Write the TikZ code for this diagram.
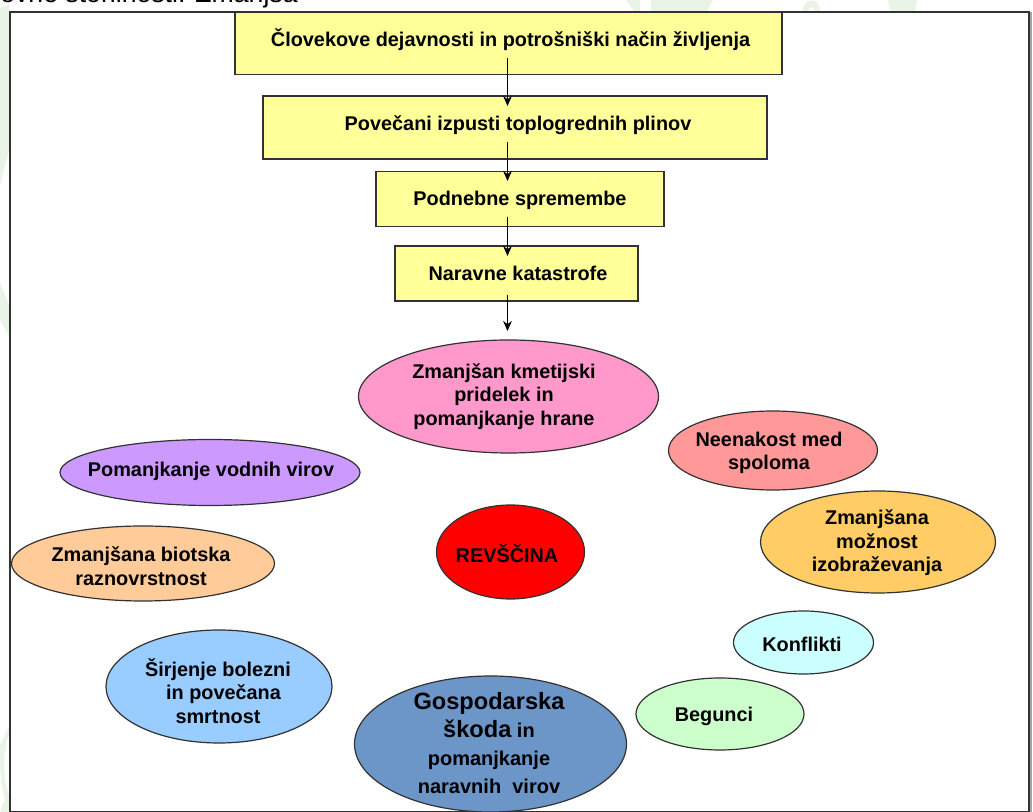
\documentclass[tikz,border=0pt]{standalone}
\usepackage{fontspec}
\setmainfont{Liberation Sans}
\usetikzlibrary{shapes.geometric,arrows.meta}
\definecolor{boxy}{RGB}{255,255,153}
\definecolor{edge}{RGB}{50,50,50}
\definecolor{leaf}{RGB}{233,244,230}
\tikzset{
  px/.style={x=0.75pt,y=-0.75pt},
  yb/.style={draw=edge,line width=0.9pt,fill=boxy},
  el/.style={ellipse,draw=edge,line width=0.9pt,inner sep=0pt},
  lbl/.style={font=\bfseries\fontsize{14.9}{17.6}\selectfont,align=center,inner sep=0pt},
  arr/.style={draw=black,line width=0.7pt,-{Stealth[length=7.5pt,width=6.5pt]}}
}
\begin{document}
\begin{tikzpicture}[px]
\useasboundingbox (0,0) rectangle (1033,812);
\fill[white] (0,0) rectangle (1033,812);
% faint leaves of the slide background, showing round the frame
\fill[leaf] (0,8) -- (9,5) -- (9,150) -- (0,185) -- cycle;
\fill[leaf] (0,283) -- (9,305) -- (9,335) -- (0,320) -- cycle;
\fill[leaf] (0,745) -- (9,727) -- (9,735) .. controls (3,750) and (2,775) .. (9,795) -- (9,812) -- (0,812) -- (5,800) .. controls (0,785) and (0,765) .. (0,745) -- cycle;
\fill[leaf] (626,0) -- (640,0) -- (640,11) -- (634,11) -- cycle;
\fill[leaf] (651,0) -- (713,0) -- (707,11) -- (651,11) -- cycle;
\fill[leaf] (803,11) .. controls (803,-3) and (820,-3) .. (820,11) -- (815,11) .. controls (815,6) and (808,6) .. (808,11) -- cycle;
\fill[leaf] (888,0) -- (917,0) -- (915,11) -- (890,11) -- cycle;
\fill[black!35] (1030,12) rectangle (1032,812);
\node[anchor=base west,inner sep=0pt,font=\fontsize{20}{24}\selectfont] (cap) at (0,3) {ovne storilnosti: Zmanjša};
\draw[edge,line width=1pt,fill=white] (10,12) -- (1029,12) -- (1029,812) -- (10,812) -- cycle;
\node[yb,minimum width=547pt*0.75,minimum height=62pt*0.75] (a) at (508.5,43.5) {};
\node[yb,minimum width=504pt*0.75,minimum height=63pt*0.75] (b) at (515,127.5) {};
\node[yb,minimum width=288pt*0.75,minimum height=55pt*0.75] (c) at (520,199) {};
\node[yb,minimum width=243pt*0.75,minimum height=55pt*0.75] (d) at (516.5,273.5) {};
\node[lbl] (at) at (510.5,40) {Človekove dejavnosti in potrošniški način življenja};
\node[lbl] (bt) at (518,125) {Povečani izpusti toplogrednih plinov};
\node[lbl] (ct) at (520,200) {Podnebne spremembe};
\node[lbl] (dt) at (518,273) {Naravne katastrofe};
\coordinate (e) at (507.5,331);
\draw[arr] (507.5,58) -- (507.5,106);
\draw[arr] (507.5,142) -- (507.5,181);
\draw[arr] (507.5,217) -- (507.5,256);
\draw[arr] (507.5,295) -- (e);
\node[el,fill={rgb,255:red,255;green,153;blue,204},minimum width=300pt*0.75,minimum height=113pt*0.75] (n1) at (508.5,396.5) {};
\node[lbl] (n1t) at (504,396.5) {Zmanjšan kmetijski\\pridelek in\\pomanjkanje hrane};
\node[el,fill={rgb,255:red,204;green,153;blue,255},minimum width=300pt*0.75,minimum height=66pt*0.75] (n2) at (210,472.5) {};
\node[lbl] (n2t) at (211,471) {Pomanjkanje vodnih virov};
\node[el,fill={rgb,255:red,255;green,153;blue,153},minimum width=209pt*0.75,minimum height=79pt*0.75] (n3) at (773,450.5) {};
\node[lbl] (n3t) at (769,453) {Neenakost med\\spoloma};
\node[el,fill={rgb,255:red,255;green,204;blue,102},minimum width=235pt*0.75,minimum height=102pt*0.75] (n4) at (878,542) {};
\node[lbl] (n4t) at (877,543) {Zmanjšana\\možnost\\izobraževanja};
\node[el,fill={rgb,255:red,255;green,204;blue,153},minimum width=263pt*0.75,minimum height=75pt*0.75] (n5) at (143,563.5) {};
\node[lbl] (n5t) at (141,566) {Zmanjšana biotska\\raznovrstnost};
\node[el,fill=red,minimum width=148pt*0.75,minimum height=94pt*0.75] (n6) at (510.5,552) {};
\node[lbl] (n6t) at (507,554) {REVŠČINA};
\node[el,fill={rgb,255:red,204;green,255;blue,255},minimum width=140pt*0.75,minimum height=63pt*0.75] (n7) at (803.5,642.5) {};
\node[lbl] (n7t) at (802,644) {Konflikti};
\node[el,fill={rgb,255:red,204;green,255;blue,204},minimum width=168pt*0.75,minimum height=72pt*0.75] (n8) at (720,714) {};
\node[lbl] (n8t) at (714,716) {Begunci};
\node[el,fill={rgb,255:red,153;green,204;blue,255},minimum width=226pt*0.75,minimum height=113pt*0.75] (n9) at (219,686.5) {};
\node[lbl] (n9t) at (218,691) {Širjenje bolezni\\\ \ in povečana\\smrtnost};
\node[el,fill={rgb,255:red,108;green,150;blue,200},minimum width=272pt*0.75,minimum height=136pt*0.75] (n10) at (490.5,744) {};
\node[lbl,font=\bfseries\fontsize{15}{21}\selectfont] (n10t) at (489,743) {{\fontsize{17.7}{21}\selectfont Gospodarska}\\{\fontsize{17.7}{21}\selectfont škoda} in\\pomanjkanje\\naravnih \ virov};
\end{tikzpicture}
\end{document}
